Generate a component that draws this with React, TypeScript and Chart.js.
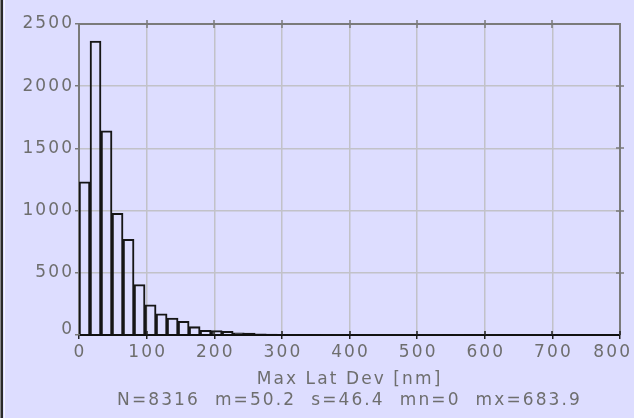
import { useEffect, useRef } from 'react';
import { Chart, registerables } from 'chart.js';

Chart.register(...registerables);

// Histogram of maximum lateral deviation, 42 equal bins from mn to mx
const rangeMin = 0;
const rangeMax = 683.9;
const binCount = 42;
const counts = [
  1232, 2363, 1642, 978, 769, 406, 243, 171, 137, 110, 67, 38, 36, 30, 18, 15,
  9, 7, 6, 5, 4, 4, 3, 3, 2, 2, 2, 1, 1, 1, 1, 1, 1, 0, 1, 0, 0, 1, 0, 0, 0, 1,
];

const xMin = 0;
const xMax = 800;
const xStep = 100;
const yMin = 0;
const yMax = 2500;
const yStep = 500;

const xTitle = 'Max Lat Dev [nm]';
const statsLine = 'N=8316  m=50.2  s=46.4  mn=0  mx=683.9';

const PAGE_BG = 'rgb(221,221,255)';
const TEXT_COLOR = '#6e6e6e';
const FONT_FAMILY = '"DejaVu Sans", Verdana, sans-serif';
const FONT_SIZE = 17;
const LETTER_SPACING = 2.1;

const binWidth = (rangeMax - rangeMin) / binCount;

const framePlugin = {
  id: 'frameAndLabels',
  beforeLayout(chart: any) {
    chart.ctx.letterSpacing = `${LETTER_SPACING}px`;
  },
  beforeDraw(chart: any) {
    chart.ctx.letterSpacing = `${LETTER_SPACING}px`;
  },
  afterDraw(chart: any) {
    const { ctx, chartArea, scales } = chart;
    const { left, right, top, bottom } = chartArea;
    const x = scales.x;
    const y = scales.y;
    ctx.save();

    // top and right frame
    ctx.strokeStyle = '#7a7a7a';
    ctx.lineWidth = 2;
    ctx.beginPath();
    ctx.moveTo(left, top);
    ctx.lineTo(right, top);
    ctx.lineTo(right, bottom);
    ctx.stroke();

    // tick marks crossing the top and right frame
    ctx.lineWidth = 1.5;
    ctx.beginPath();
    x.ticks.forEach((t: any) => {
      const px = Math.round(x.getPixelForValue(t.value));
      if (px > left + 2 && px < right - 2) {
        ctx.moveTo(px, top - 4);
        ctx.lineTo(px, top + 4);
      }
    });
    y.ticks.forEach((t: any) => {
      const py = Math.round(y.getPixelForValue(t.value));
      if (py > top + 2 && py < bottom - 2) {
        ctx.moveTo(right - 4, py);
        ctx.lineTo(right + 4, py);
      }
    });
    ctx.stroke();

    // dark tick marks just above the bottom axis
    ctx.strokeStyle = '#222';
    ctx.beginPath();
    x.ticks.forEach((t: any) => {
      const px = Math.round(x.getPixelForValue(t.value));
      if (px > left + 2 && px < right + 2) {
        ctx.moveTo(px, bottom - 4);
        ctx.lineTo(px, bottom);
      }
    });
    ctx.stroke();

    // tick labels
    ctx.font = `${FONT_SIZE}px ${FONT_FAMILY}`;
    ctx.fillStyle = TEXT_COLOR;
    ctx.textBaseline = 'middle';
    ctx.textAlign = 'left';
    const canvasW = chart.width;
    x.ticks.forEach((t: any) => {
      const label = String(t.value);
      const w = ctx.measureText(label).width - LETTER_SPACING;
      const px = x.getPixelForValue(t.value);
      let startX = px - w / 2;
      if (startX + w > canvasW - 4) startX = canvasW - 4 - w;
      ctx.fillText(label, startX, bottom + 18);
    });
    y.ticks.forEach((t: any) => {
      const label = String(t.value);
      const w = ctx.measureText(label).width - LETTER_SPACING;
      const py = Math.min(y.getPixelForValue(t.value), bottom - 5);
      ctx.fillText(label, left - 7 - w, py);
    });

    ctx.restore();
  },
};

export default function App() {
  const canvasRef = useRef<HTMLCanvasElement | null>(null);

  useEffect(() => {
    const canvas = canvasRef.current;
    if (!canvas) return;
    const points = counts.map((c, i) => ({
      x: rangeMin + (i + 0.5) * binWidth,
      y: c,
    }));
    const chart = new Chart(canvas, {
      type: 'bar',
      data: {
        datasets: [
          {
            data: points as any,
            backgroundColor: 'rgba(0,0,0,0)',
            borderColor: '#161616',
            borderWidth: 1.4,
            borderSkipped: 'start',
            barPercentage: 1,
            categoryPercentage: 1,
          },
        ],
      },
      options: {
        animation: false,
        responsive: false,
        events: [],
        layout: { padding: { top: 24, right: 14, bottom: 0, left: 0 } },
        plugins: {
          legend: { display: false },
          tooltip: { enabled: false },
        },
        scales: {
          x: {
            type: 'linear',
            min: xMin,
            max: xMax,
            offset: false,
            ticks: { display: false, stepSize: xStep },
            grid: {
              offset: false,
              color: '#c2c2c8',
              lineWidth: 1.5,
              drawTicks: true,
              tickLength: 4,
              tickColor: '#222',
              tickWidth: 1.5,
            },
            border: { display: true, color: '#111', width: 2 },
            title: {
              display: true,
              text: [xTitle, statsLine],
              color: TEXT_COLOR,
              font: { family: FONT_FAMILY, size: FONT_SIZE, lineHeight: '21px' },
              padding: { top: 0, bottom: 6.5 },
            },
            afterFit: (scale: any) => {
              scale.height = 83;
            },
          },
          y: {
            type: 'linear',
            min: yMin,
            max: yMax,
            ticks: { display: false, stepSize: yStep },
            grid: {
              color: '#c2c2c8',
              lineWidth: 1.5,
              drawTicks: true,
              tickLength: 4,
              tickColor: '#7a7a7a',
              tickWidth: 1.5,
            },
            border: { display: true, color: '#7a7a7a', width: 2 },
            afterFit: (scale: any) => {
              scale.width = 79;
            },
          },
        },
      },
      plugins: [framePlugin],
    });
    return () => chart.destroy();
  }, []);

  return (
    <div
      style={{
        position: 'fixed',
        left: 0,
        top: 0,
        width: 634,
        height: 418,
        background: PAGE_BG,
      }}
    >
      <div style={{ position: 'absolute', left: 0, top: 0, width: 1, height: 418, background: '#8a8a8a' }} />
      <div style={{ position: 'absolute', left: 1, top: 0, width: 2, height: 418, background: '#2a2a2a' }} />
      <div style={{ position: 'absolute', left: 4, top: 0, width: 1, height: 418, background: '#f4f4ff' }} />
      <canvas
        ref={canvasRef}
        width={634}
        height={418}
        style={{ display: 'block', position: 'absolute', left: 0, top: 0 }}
      />
    </div>
  );
}
